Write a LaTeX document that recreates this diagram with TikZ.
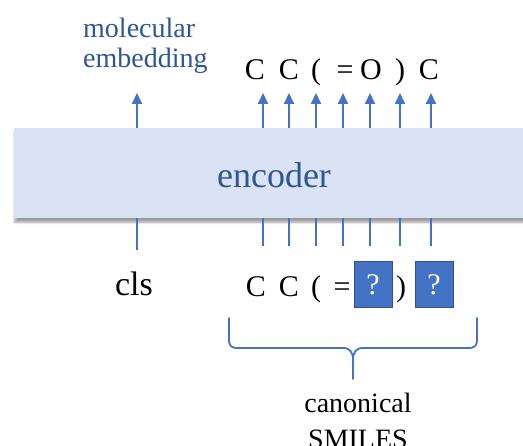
\documentclass[tikz,border=0pt]{standalone}
\usepackage{fontspec}
\setmainfont{Liberation Serif}
\usetikzlibrary{arrows.meta,shadows.blur}
\definecolor{linkblue}{HTML}{4472C4}
\definecolor{textblue}{HTML}{2F5597}
\definecolor{encfill}{HTML}{DAE3F3}
\definecolor{qborder}{HTML}{2F528F}
\tikzset{
  encbox/.style={fill=encfill, draw=none, inner sep=0pt,
    blur shadow={shadow xshift=0.8pt, shadow yshift=-4pt,
      shadow blur radius=2.5pt, shadow opacity=40}},
  link/.style={draw=linkblue, line width=1.8pt},
  uparrow/.style={link, -{Triangle[width=10pt,length=11pt]}},
  token/.style={font=\fontsize{30}{34}\selectfont, inner sep=0pt,
    text height=20pt, text depth=7pt, anchor=base},
  qbox/.style={fill=linkblue, draw=qborder, line width=1pt,
    minimum width=38pt, minimum height=46pt, inner sep=0pt,
    text=white, font=\fontsize{30}{34}\selectfont},
  plain/.style={inner sep=0pt, anchor=base}
}
\begin{document}
\begin{tikzpicture}[x=1pt,y=-1pt]
\useasboundingbox (0,0) rectangle (523,446);

% encoder block
\node[encbox, minimum width=540pt, minimum height=90pt, anchor=north west]
  (enc) at (14,128) {};
\node[plain, text=textblue, font=\fontsize{36}{40}\selectfont]
  (enctext) at (274,188) {encoder};

% column positions of the token streams
\foreach \i/\x in {0/137,1/263,2/289,3/316,4/343,5/370,6/400,7/431}
  \coordinate (col\i) at (\x,0);

% output side
\node[plain, text=textblue, font=\fontsize{28}{30}\selectfont, align=left,
  anchor=base west] (embed) at (83,68) {molecular\\embedding};
\node[token] (out1) at (255,80) {C};
\node[token] (out2) at (289,80) {C};
\node[token] (out3) at (316,80) {(};
\node[token] (out4) at (345,80) {=};
\node[token] (out5) at (371,80) {O};
\node[token] (out6) at (400,80) {)};
\node[token] (out7) at (429,80) {C};

\coordinate (embtip) at (137,93);
\draw[uparrow] (enc.north -| embtip) -- (embtip);
\foreach \i/\x in {1/263,2/289,3/316,4/343,5/370,6/400,7/431}
  \draw[uparrow] (enc.north -| col\i) -- (\x,93);

% input side
\node[plain, font=\fontsize{34}{38}\selectfont] (cls) at (134,296) {cls};
\node[token] (in1) at (256,297) {C};
\node[token] (in2) at (289,297) {C};
\node[token] (in3) at (316,297) {(};
\node[token] (in4) at (342,297) {=};
\node[qbox] (in5) at (373,285) {?};
\node[token] (in6) at (401,297) {)};
\node[qbox] (in7) at (434,285) {?};

\draw[link] (enc.south -| col0) -- ++(0,32);
\foreach \i in {1,...,7}
  \draw[link] (enc.south -| col\i) -- ++(0,28);

% brace under the SMILES tokens
\coordinate (bl) at (229,318);
\coordinate (br) at (477,318);
\coordinate (btip) at (353,379);
\draw[link, line cap=round, line join=round]
  (bl) -- (229,339) .. controls (229,346) and (231,348) .. (238,348)
  -- (343,348) .. controls (350,348) and (353,352) .. (353,360)
  -- (btip)
  (353,360) .. controls (353,352) and (356,348) .. (363,348)
  -- (468,348) .. controls (475,348) and (477,346) .. (477,339) -- (br);

\node[inner sep=0pt, font=\fontsize{28}{36}\selectfont, align=center,
  anchor=base] (smiles) at (358,449) {canonical\\SMILES};
\end{tikzpicture}
\end{document}
